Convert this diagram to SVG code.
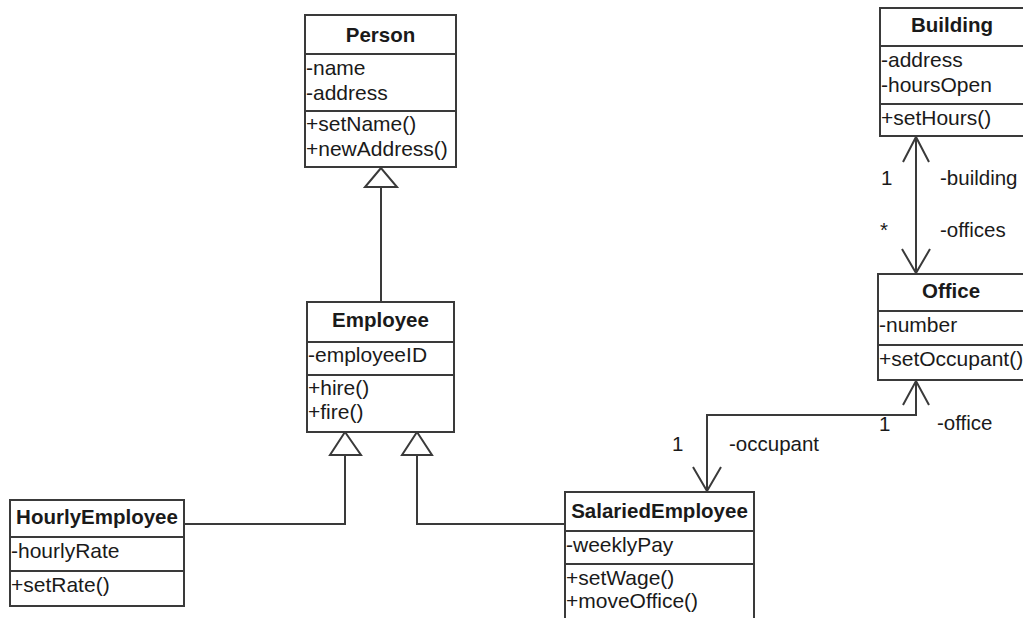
<svg xmlns="http://www.w3.org/2000/svg" width="1023" height="618" viewBox="0 0 1023 618">
<style>
  .box { fill: #ffffff; stroke: #3a3a3a; stroke-width: 2; }
  .div { stroke: #3a3a3a; stroke-width: 2; }
  .t { font-family: "Liberation Sans", Arial, sans-serif; font-size: 21px; fill: #1a1a1a; }
  .h { font-family: "Liberation Sans", Arial, sans-serif; font-size: 20.5px; font-weight: bold; fill: #1a1a1a; text-anchor: middle; }
  .lbl { font-family: "Liberation Sans", Arial, sans-serif; font-size: 20.5px; fill: #1a1a1a; }
  .ln { fill: none; stroke: #3a3a3a; stroke-width: 2; }
  .tri { fill: #ffffff; stroke: #3a3a3a; stroke-width: 2; stroke-linejoin: miter; }
</style>
<rect width="1023" height="618" fill="#ffffff"/>

<g id="connectors">
  <!-- Person <- Employee generalization -->
  <line class="ln" x1="381" y1="302" x2="381" y2="187"/>
  <polygon class="tri" points="381,168 365,187 397,187"/>
  <!-- HourlyEmployee -> Employee -->
  <polyline class="ln" points="184,524 345,524 345,455"/>
  <polygon class="tri" points="345,432 330,455 361,455"/>
  <!-- SalariedEmployee -> Employee -->
  <polyline class="ln" points="565,524 417,524 417,455"/>
  <polygon class="tri" points="417,432 402,455 432,455"/>
  <!-- Building <-> Office -->
  <line class="ln" x1="916" y1="136" x2="916" y2="274"/>
  <polyline class="ln" points="903,162 916,137 929,162"/>
  <polyline class="ln" points="902,249 916,273 930,249"/>
  <!-- Office <-> SalariedEmployee -->
  <polyline class="ln" points="916,380 916,415 707,415 707,492"/>
  <polyline class="ln" points="903,405 916,381 929,405"/>
  <polyline class="ln" points="693,467 707,491 721,467"/>
  <!-- labels -->
  <text class="lbl" x="881" y="185">1</text>
  <text class="lbl" x="940" y="185">-building</text>
  <text class="lbl" x="880" y="237">*</text>
  <text class="lbl" x="940" y="237">-offices</text>
  <text class="lbl" x="879" y="431">1</text>
  <text class="lbl" x="937" y="430">-office</text>
  <text class="lbl" x="672" y="451">1</text>
  <text class="lbl" x="729" y="451">-occupant</text>
</g>

<g id="Person">
  <rect class="box" x="305" y="15" width="151" height="152"/>
  <line class="div" x1="305" y1="54" x2="456" y2="54"/>
  <line class="div" x1="305" y1="111" x2="456" y2="111"/>
  <text class="h" x="380.5" y="42">Person</text>
  <text class="t" x="306" y="75">-name</text>
  <text class="t" x="306" y="100">-address</text>
  <text class="t" x="306" y="131">+setName()</text>
  <text class="t" x="306" y="156">+newAddress()</text>
</g>

<g id="Employee">
  <rect class="box" x="307" y="302" width="147" height="130"/>
  <line class="div" x1="307" y1="342" x2="454" y2="342"/>
  <line class="div" x1="307" y1="375" x2="454" y2="375"/>
  <text class="h" x="380.5" y="327">Employee</text>
  <text class="t" x="308" y="362">-employeeID</text>
  <text class="t" x="308" y="395">+hire()</text>
  <text class="t" x="308" y="419">+fire()</text>
</g>

<g id="HourlyEmployee">
  <rect class="box" x="10" y="500" width="174" height="106"/>
  <line class="div" x1="10" y1="537" x2="184" y2="537"/>
  <line class="div" x1="10" y1="571" x2="184" y2="571"/>
  <text class="h" x="97" y="524">HourlyEmployee</text>
  <text class="t" x="11" y="558">-hourlyRate</text>
  <text class="t" x="11" y="592">+setRate()</text>
</g>

<g id="SalariedEmployee">
  <rect class="box" x="565" y="492" width="189" height="140"/>
  <line class="div" x1="565" y1="531" x2="754" y2="531"/>
  <line class="div" x1="565" y1="564" x2="754" y2="564"/>
  <text class="h" x="659.5" y="518">SalariedEmployee</text>
  <text class="t" x="566" y="552">-weeklyPay</text>
  <text class="t" x="566" y="585">+setWage()</text>
  <text class="t" x="566" y="608">+moveOffice()</text>
</g>

<g id="Building">
  <rect class="box" x="880" y="8" width="160" height="128"/>
  <line class="div" x1="880" y1="46" x2="1040" y2="46"/>
  <line class="div" x1="880" y1="104" x2="1040" y2="104"/>
  <text class="h" x="952" y="32">Building</text>
  <text class="t" x="881" y="67">-address</text>
  <text class="t" x="881" y="92">-hoursOpen</text>
  <text class="t" x="881" y="125">+setHours()</text>
</g>

<g id="Office">
  <rect class="box" x="878" y="274" width="160" height="106"/>
  <line class="div" x1="878" y1="311" x2="1038" y2="311"/>
  <line class="div" x1="878" y1="345" x2="1038" y2="345"/>
  <text class="h" x="951" y="298">Office</text>
  <text class="t" x="879" y="332">-number</text>
  <text class="t" x="879" y="366">+setOccupant()</text>
</g>
</svg>
